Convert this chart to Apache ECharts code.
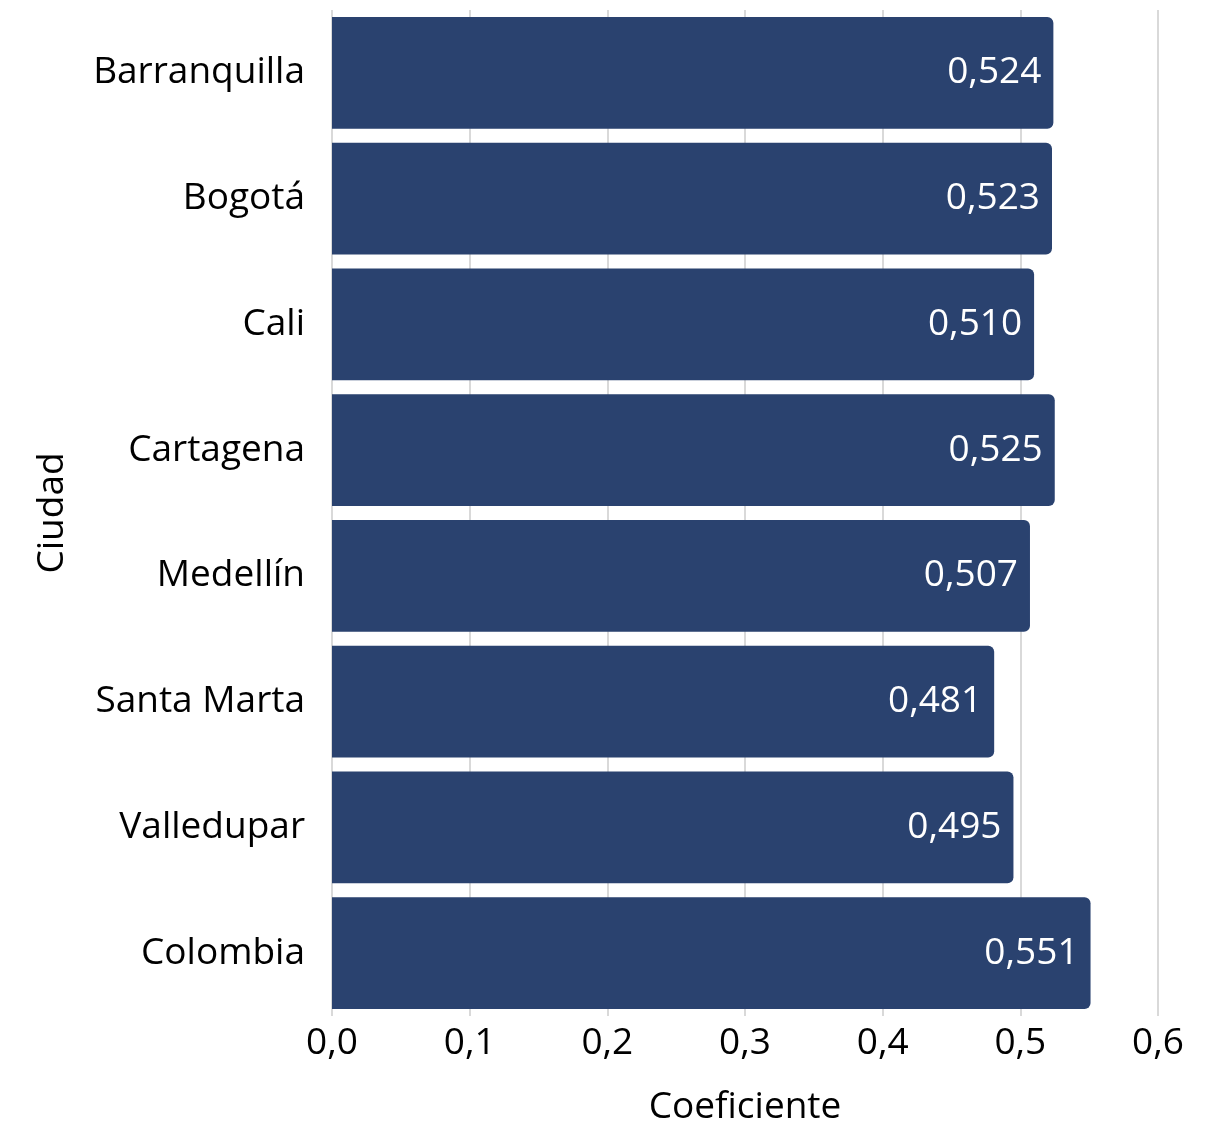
<!DOCTYPE html>
<html>
<head>
<meta charset="utf-8">
<script src="https://cdn.jsdelivr.net/npm/echarts@6/dist/echarts.min.js"></script>
<style>
  html, body { margin: 0; padding: 0; background: #fff; }
  #chart { width: 1230px; height: 1125px; }
</style>
</head>
<body>
<div id="chart"></div>
<script>
const ciudades = ['Barranquilla', 'Bogotá', 'Cali', 'Cartagena', 'Medellín', 'Santa Marta', 'Valledupar', 'Colombia'];
const coeficiente = [0.524, 0.523, 0.510, 0.525, 0.507, 0.481, 0.495, 0.551];
const xTicks = [0, 0.1, 0.2, 0.3, 0.4, 0.5, 0.6];

const chart = echarts.init(document.getElementById('chart'));
const font = '"Open Sans", "Noto Sans", sans-serif';

chart.setOption({
  animation: false,
  textStyle: { fontFamily: font },
  grid: { left: 332, right: 72, top: 10, bottom: 109, outerBoundsMode: 'none', containLabel: false },
  xAxis: {
    type: 'value',
    min: xTicks[0],
    max: xTicks[xTicks.length - 1],
    interval: 0.1,
    name: 'Coeficiente',
    nameLocation: 'middle',
    nameGap: 73,
    nameTextStyle: { color: '#000', fontSize: 37, fontFamily: font },
    axisLine: { show: false },
    axisTick: { show: false },
    axisLabel: {
      color: '#000',
      fontSize: 37,
      margin: 9,
      formatter: v => v.toFixed(1).replace('.', ',')
    },
    splitLine: { show: true, lineStyle: { color: '#cccccc', width: 1.5 } }
  },
  yAxis: {
    type: 'category',
    data: ciudades,
    inverse: true,
    name: 'Ciudad',
    nameLocation: 'middle',
    nameGap: 261,
    nameRotate: 90,
    nameTextStyle: { color: '#000', fontSize: 37, fontFamily: font },
    axisLine: { show: false },
    axisTick: { show: false },
    axisLabel: { color: '#000', fontSize: 37, margin: 27 }
  },
  series: [{
    type: 'bar',
    data: coeficiente,
    barCategoryGap: '11%',
    itemStyle: { color: '#2a426f', borderRadius: [0, 6, 6, 0] },
    label: {
      show: true,
      position: 'insideRight',
      distance: 12,
      color: '#fff',
      fontSize: 37,
      fontFamily: font,
      formatter: p => p.value.toFixed(3).replace('.', ',')
    }
  }]
});

window.addEventListener('resize', function () {
  chart.resize();
});
</script>
</body>
</html>
